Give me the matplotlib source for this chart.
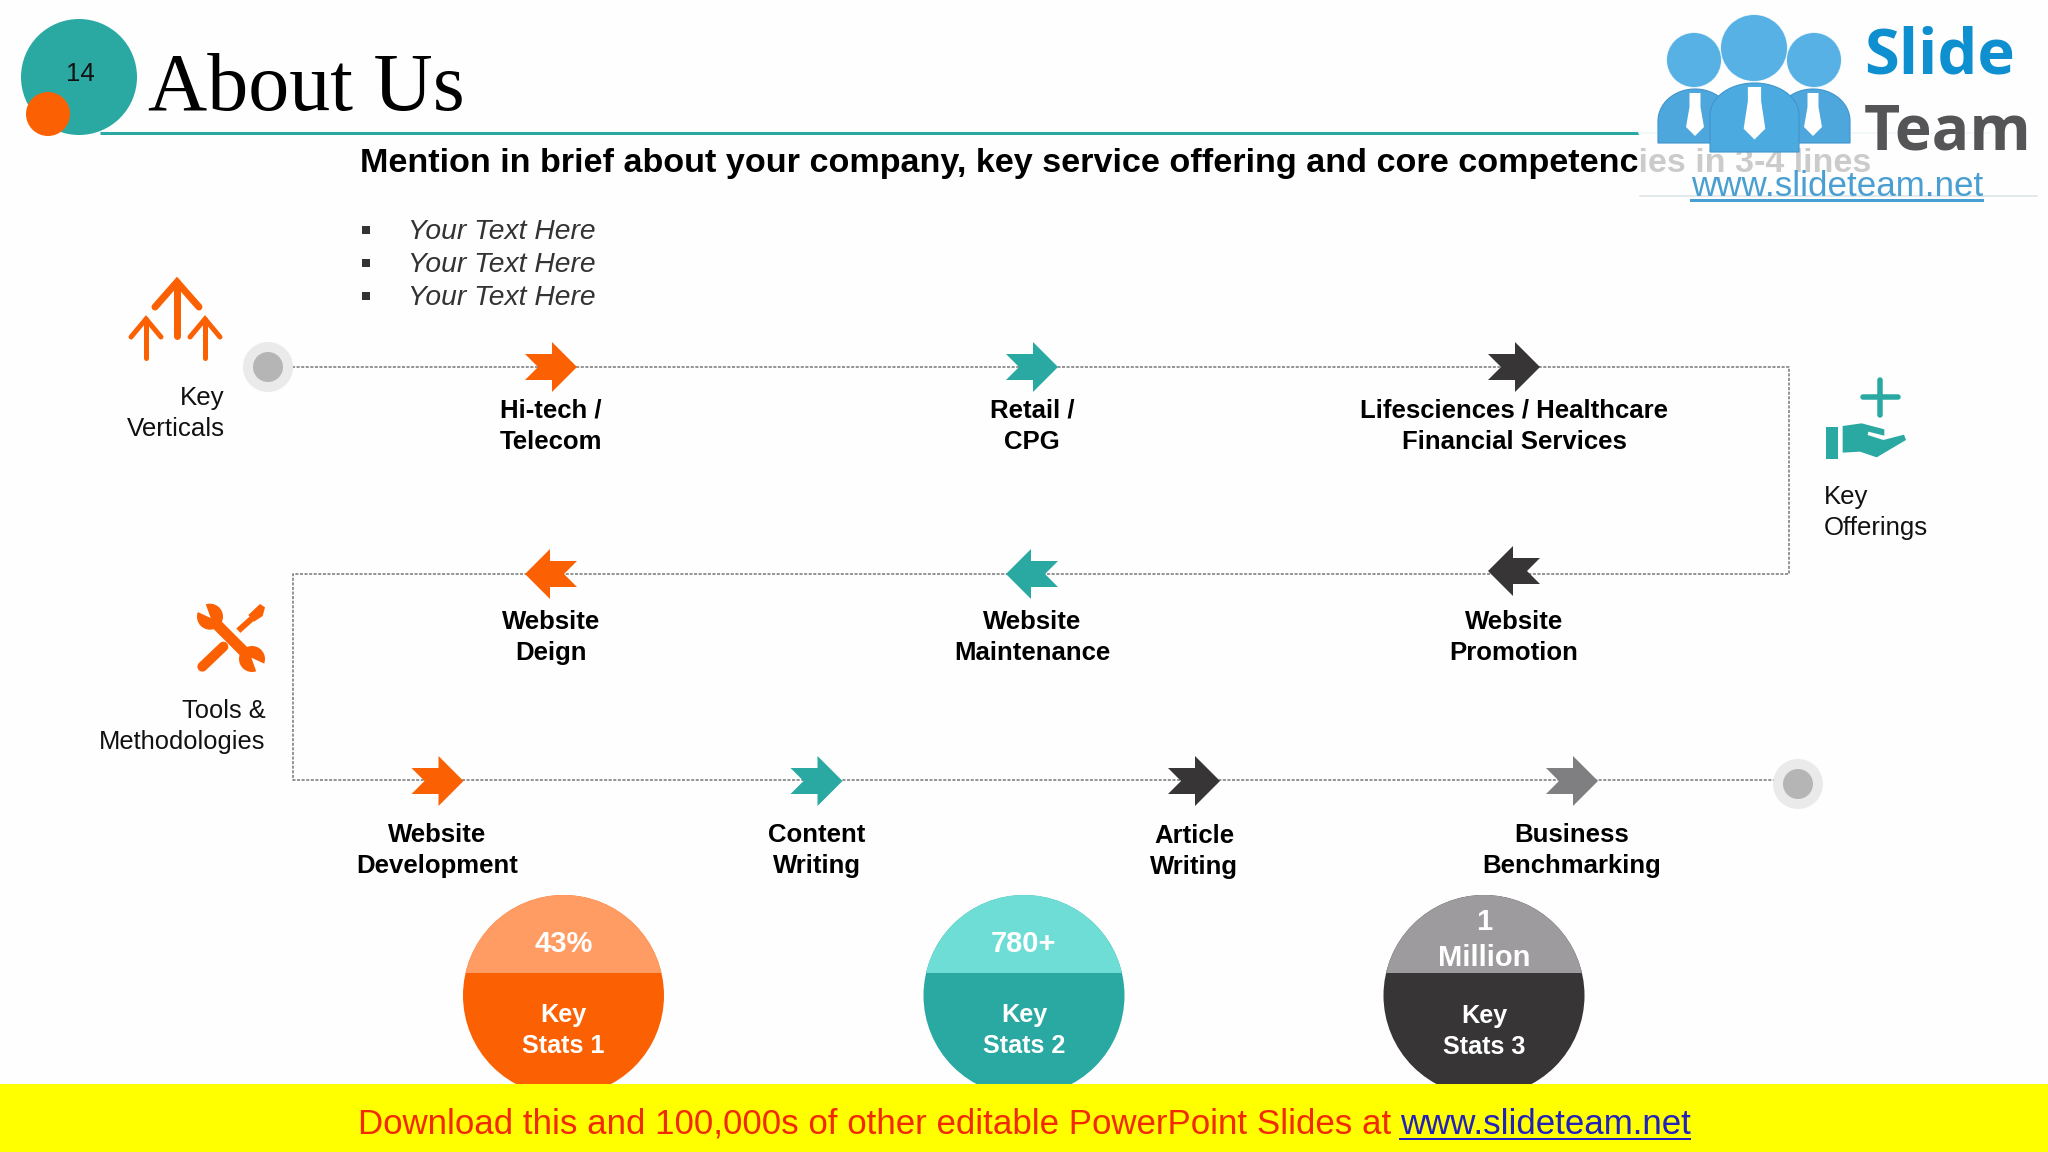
import matplotlib
matplotlib.use("Agg")
import matplotlib.pyplot as plt
import numpy as np
from matplotlib.patches import Circle, Rectangle, Polygon

# ---- content -------------------------------------------------------------
title = "About Us"
page_number = "14"
subtitle = "Mention in brief about your company, key service offering and core competencies in 3-4 lines"
bullets = ["Your Text Here", "Your Text Here", "Your Text Here"]

row1_labels = [["Hi-tech /", "Telecom"], ["Retail /", "CPG"],
               ["Lifesciences / Healthcare", "Financial Services"]]
row2_labels = [["Website", "Deign"], ["Website", "Maintenance"], ["Website", "Promotion"]]
row3_labels = [["Website", "Development"], ["Content", "Writing"],
               ["Article", "Writing"], ["Business", "Benchmarking"]]
row1_x = [551, 1032, 1514]
row2_y = [574, 574, 571]
row3_x = [437.5, 816.5, 1194, 1572]
row3_base = [842, 842, 843, 842]

stat_values = [["43%"], ["780+"], ["1", "Million"]]
stat_names = [["Key", "Stats 1"], ["Key", "Stats 2"], ["Key", "Stats 3"]]
stat_x = [563.5, 1024, 1484]
banner_text = "Download this and 100,000s of other editable PowerPoint Slides at "
banner_link = "www.slideteam.net"

ORANGE, TEAL, DARK, GREY = "#FB6103", "#2AA9A3", "#373536", "#7F7E80"
row1_colors = [ORANGE, TEAL, DARK]
row3_colors = [ORANGE, TEAL, DARK, GREY]
stat_dark = [ORANGE, TEAL, DARK]
stat_light = ["#FF9C63", "#6EDDD6", "#9D9B9D"]
SANS, SERIF = "Liberation Sans", "Liberation Serif"

# ---- canvas --------------------------------------------------------------
fig = plt.figure(figsize=(20.48, 11.52), dpi=100, facecolor="#FEFEFE")
ax = fig.add_axes([0, 0, 1, 1])
ax.set_xlim(0, 2048)
ax.set_ylim(1152, 0)
ax.axis("off")
PT = 0.72


def label(x, y, s, size, weight="normal", color="black", ha="center", style="normal",
          family=SANS, z=5):
    return ax.text(x, y, s, fontsize=size, fontweight=weight, color=color, ha=ha, va="baseline",
                   fontstyle=style, family=family, zorder=z)


def lines(x, ys, rows, **kw):
    for y, s in zip(ys, rows):
        label(x, y, s, **kw)


def chevron(cx, cy, color, direction=1):
    shape = [(-26, -13), (1, -13), (1, -25), (26, 0), (1, 25), (1, 13), (-26, 13), (-13, 0)]
    ax.add_patch(Polygon([(cx + direction * a, cy + b) for a, b in shape], closed=True,
                         fc=color, ec="none", zorder=4))


# ---- header --------------------------------------------------------------
ax.plot([100, 1639], [133, 133], color=TEAL, lw=3 * PT, zorder=2, solid_capstyle="butt")
ax.plot([1639, 1990], [133, 133], color="#BFE6E3", lw=2 * PT, zorder=2)
ax.add_patch(Circle((79, 77), 58, fc=TEAL, ec="none", zorder=3))
ax.add_patch(Circle((48, 114), 22, fc=ORANGE, ec="none", zorder=3))
label(80, 81, page_number, 18.5, color="#111111")
label(148, 110, title, 59, family=SERIF, ha="left")
label(360, 172, subtitle, 24.6, weight="bold", ha="left", z=2)

for y, s in zip([239, 272, 305], bullets):
    ax.add_patch(Rectangle((362, y - 13), 8, 8, fc="#333333", ec="none", zorder=4))
    label(408, y, s, 20.3, style="italic", color="#333333", ha="left")

# ---- logo ----------------------------------------------------------------
ax.add_patch(Rectangle((1639, 0), 400, 196, fc="white", ec="none", alpha=0.8, zorder=6))
ax.plot([1640, 2037], [196, 196], color="#DCE3E6", lw=1.5 * PT, zorder=6)
theta = np.linspace(np.pi, 0, 60)
for cx, w, top, bot, shade in [(1695, 37, 89, 143, "#4DA6DC"), (1813, 37, 89, 143, "#4DA6DC"),
                               (1754.5, 44.5, 83, 152, "#4BABE0")]:
    dome = list(zip(cx + w * np.cos(theta), top + 32 - 32 * np.sin(theta)))
    dome += [(cx + w, bot), (cx - w, bot)]
    ax.add_patch(Polygon(dome, closed=True, fc=shade, ec="#3F95CC", lw=0.8, zorder=7))
    k = w / 37
    tie = [(-5.5 * k, 4), (5.5 * k, 4), (5.5 * k, 18), (9 * k, 38 * k), (0, 47 * k),
           (-9 * k, 38 * k), (-5.5 * k, 18)]
    ax.add_patch(Polygon([(cx + a, top + b) for a, b in tie], closed=True, fc="white",
                         ec="none", zorder=8))
for cx, cy, r in [(1694, 60, 27), (1814, 60, 27), (1754, 48, 33)]:
    ax.add_patch(Circle((cx, cy), r + 0.6, fc="#DDEFFA", ec="none", zorder=8))
    ax.add_patch(Circle((cx, cy), r, fc="#58B1E4", ec="none", zorder=9))
label(1864, 74, "Slide", 45.5, weight="bold", color="#0E8FD0", ha="left", family="Open Sans", z=9)
label(1864, 150, "Team", 45, weight="bold", color="#555558", ha="left", family="Open Sans", z=9)
label(1691, 195.5, "www.slideteam.net", 25.2, color="#4A9FD2", ha="left", z=9)
ax.plot([1691, 1982], [200, 200], color="#4A9FD2", lw=3 * PT, zorder=9)

# ---- dotted route ---------------------------------------------------------
ax.plot([292, 1789, 1789, 293, 293, 1775], [367, 367, 574, 574, 780, 780],
        color="#777777", lw=1.1, ls=(0, (2, 1)), zorder=1)
for cx, cy in [(268, 367), (1798, 784)]:
    ax.add_patch(Circle((cx, cy), 25, fc="#EAEAEA", ec="none", zorder=3))
    ax.add_patch(Circle((cx, cy), 15, fc="#B5B5B5", ec="none", zorder=3))

# ---- route steps ----------------------------------------------------------
for x, c, rows in zip(row1_x, row1_colors, row1_labels):
    chevron(x, 367, c)
    lines(x, [418, 449], rows, size=18.5, weight="bold")
for x, y, c, rows in zip(row1_x, row2_y, row1_colors, row2_labels):
    chevron(x, y, c, -1)
    lines(x, [629, 660], rows, size=18.5, weight="bold")
for x, c, rows, base in zip(row3_x, row3_colors, row3_labels, row3_base):
    chevron(x, 781, c)
    lines(x, [base, base + 31], rows, size=18.5, weight="bold")

# ---- side captions and icons -----------------------------------------------
lines(224.5, [405, 436], ["Key", "Verticals"], size=18.6, ha="right", color="#111111")
lines(265.5, [718, 749], ["Tools &", "Methodologies"], size=18.4, ha="right", color="#111111")
lines(1824, [504, 535], ["Key", "Offerings"], size=18.5, ha="left", color="#111111")

for x, top, bot, half, drop, w in [(177, 282, 336, 22, 25, 7), (146, 319, 358, 15, 18, 5),
                                   (205, 319, 358, 15, 18, 5)]:
    ax.plot([x, x], [top, bot], color=ORANGE, lw=w * PT, solid_capstyle="round", zorder=4)
    ax.plot([x - half, x, x + half], [top + drop, top, top + drop], color=ORANGE, lw=w * PT,
            solid_capstyle="round", solid_joinstyle="miter", zorder=4)

# hand and plus
ax.plot([1880, 1880], [380, 415], color=TEAL, lw=5.5 * PT, solid_capstyle="round", zorder=4)
ax.plot([1863, 1898], [397, 397], color=TEAL, lw=5.5 * PT, solid_capstyle="round", zorder=4)
ax.add_patch(Rectangle((1826, 427), 12, 32, fc=TEAL, ec="none", zorder=4))
hand = [(428, 258), (485, 250), (553, 268), (553, 287), (505, 275), (503, 285), (550, 300),
        (612, 284), (618, 300), (530, 352), (480, 335), (428, 338)]
ax.add_patch(Polygon([(1700 + a / 3, 340 + b / 3) for a, b in hand], closed=True, fc=TEAL,
                     ec="none", zorder=4))


# tools
def t(a, b):
    return 80 + a / 3, 560 + b / 3


ax.plot(*zip(t(395, 178), t(512, 295)), color=ORANGE, lw=11 * PT, zorder=4, solid_capstyle="butt")
ax.plot(*zip(t(367, 320), t(430, 260)), color=ORANGE, lw=10 * PT, zorder=3, solid_capstyle="round")
ax.plot(*zip(t(475, 212), t(522, 170)), color=ORANGE, lw=6 * PT, zorder=3, solid_capstyle="butt")
ax.add_patch(Polygon([t(*p) for p in [(505, 165), (540, 132), (555, 142), (548, 168), (522, 185)]],
                     closed=True, fc=ORANGE, ec="none", zorder=3))
for (a, b), notch in [((390, 170), [(392, 174), (372, 118), (340, 150)]),
                      ((516, 297), [(514, 293), (534, 349), (566, 317)])]:
    ax.add_patch(Circle(t(a, b), 13, fc=ORANGE, ec="none", zorder=4))
    ax.add_patch(Polygon([t(*p) for p in notch], closed=True, fc="#FEFEFE", ec="none", zorder=4))

# ---- stat discs ------------------------------------------------------------
for x, dark, light in zip(stat_x, stat_dark, stat_light):
    disc = Circle((x, 995.5), 100.5, fc=dark, ec="none", zorder=3)
    ax.add_patch(disc)
    top = Rectangle((x - 101, 890), 202, 83, fc=light, ec="none", zorder=3)
    ax.add_patch(top)
    top.set_clip_path(disc)

label(stat_x[0], 952, stat_values[0][0], 21, weight="bold", color="white")
label(stat_x[1], 952, stat_values[1][0], 21, weight="bold", color="white")
lines(stat_x[2], [930, 966], stat_values[2], size=21, weight="bold", color="white")
for x, rows, ys in zip(stat_x, stat_names, [[1022, 1053], [1022, 1053], [1023, 1054]]):
    lines(x, ys, rows, size=18.2, weight="bold", color="white")

# ---- banner ----------------------------------------------------------------
ax.add_patch(Rectangle((0, 1084), 2048, 68, fc="#FFFF00", ec="none", zorder=10))
label(358, 1134, banner_text, 25.1, color="#F22A00", ha="left", z=11)
label(1400, 1134, banner_link, 25.1, color="#2222BB", ha="left", z=11)
ax.plot([1400, 1690], [1138.5, 1138.5], color="#2222BB", lw=2 * PT, zorder=11)

fig.savefig("out.png", dpi=100, facecolor=fig.get_facecolor())
